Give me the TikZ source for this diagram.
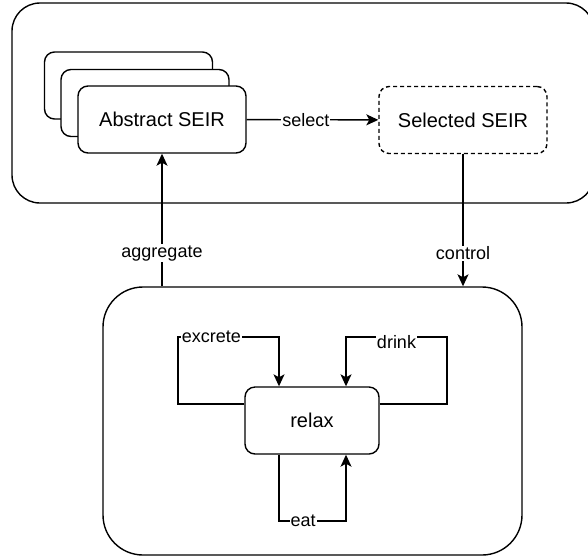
\documentclass[tikz,border=0pt]{standalone}
\usepackage{fontspec}
\setmainfont{Liberation Sans}
\usetikzlibrary{arrows.meta}
\begin{document}
\begin{tikzpicture}[x=1pt,y=-1pt,
  line width=1.4pt,
  box/.style={draw, rounded corners=10pt, minimum width=168pt, minimum height=67pt, fill=white, font=\fontsize{20}{24}\selectfont, inner sep=0pt},
  lbl/.style={fill=white, inner sep=1pt, font=\fontsize{18}{21}\selectfont},
  arr/.style={-{Stealth[length=12pt,width=11pt,inset=3pt]}}]
\useasboundingbox (0,0) rectangle (588,558);
\clip (0,0) rectangle (588,558);
\fill[white] (0,0) rectangle (588,558);
% outer containers
\node[draw, rounded corners=28pt, minimum width=582pt, minimum height=200pt, inner sep=0pt] (top) at (303,103) {};
\node[draw, rounded corners=40pt, minimum width=419pt, minimum height=268pt, inner sep=0pt] (bot) at (312.5,421) {};
% stacked abstract boxes
\node[box] (abs3) at (128.5,85.5) {};
\node[box] (abs2) at (145,103) {};
\node[box] (abs) at (162,119.5) {Abstract SEIR};
\node[box, dash pattern=on 4pt off 3pt] (sel) at (463,120) {Selected SEIR};
\node[box, minimum width=134pt] (relax) at (312,420.5) {relax};
% connectors
\draw[arr] (abs) -- node[lbl, pos=0.45] {select} (sel);
\draw[arr] (abs.south |- bot.north) -- node[lbl, pos=0.25] {aggregate} (abs.south);
\draw[arr] (sel.south) -- node[lbl, pos=0.75] {control} (sel.south |- bot.north);
\coordinate (e1) at (178,404);
\coordinate (e2) at (178,337);
\coordinate (e3) at (279,337);
\draw[arr] ([yshift=16.5pt]relax.west) -- (e1) -- (e2) -- node[lbl, pos=0.33] {excrete} (e3) -- ([xshift=-33pt]relax.north);
\coordinate (d1) at (447,404);
\coordinate (d2) at (447,337);
\coordinate (d3) at (346,337);
\draw[arr] ([yshift=16.5pt]relax.east) -- (d1) -- (d2) -- node[lbl, pos=0.5, yshift=-5pt] {drink} (d3) -- ([xshift=34pt]relax.north);
\coordinate (t1) at (279,521);
\coordinate (t2) at (346,521);
\draw[arr] ([xshift=-33pt]relax.south) -- (t1) -- node[lbl, pos=0.36] {eat} (t2) -- ([xshift=34pt]relax.south);
\end{tikzpicture}
\end{document}
